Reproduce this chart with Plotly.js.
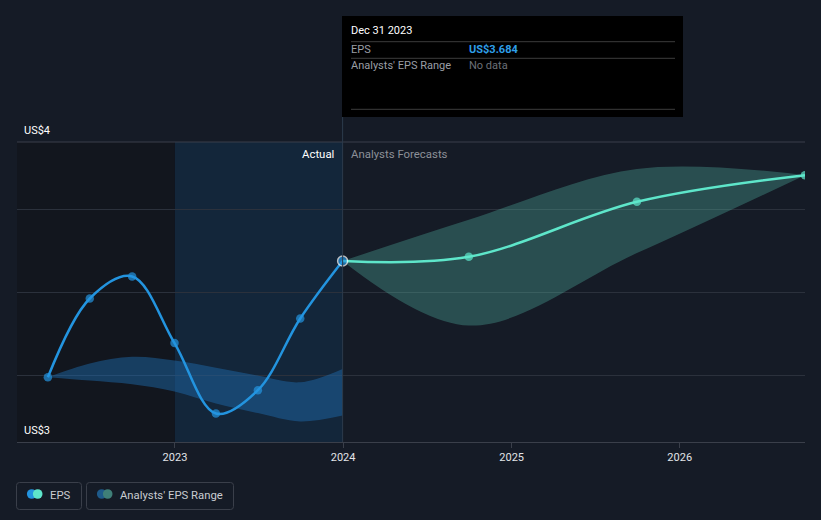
<!DOCTYPE html>
<html>
<head>
<meta charset="utf-8">
<script src="https://cdn.plot.ly/plotly-3.0.1.min.js"></script>
<style>
html,body{margin:0;padding:0;background:#151b26;}
#chart{width:821px;height:520px;}
</style>
</head>
<body>
<div id="chart"></div>
<script>
// ---- data ----
const actualDates = ['2022-03-31','2022-06-30','2022-09-30','2022-12-31','2023-03-31','2023-06-30','2023-09-30','2023-12-31'];
const actualEps = [3.405, 3.594, 3.647, 3.487, 3.318, 3.374, 3.546, 3.684];
const pastRangeHigh = [3.405, 3.438, 3.454, 3.445, 3.428, 3.409, 3.393, 3.425];
const pastRangeLow = [3.405, 3.397, 3.388, 3.371, 3.342, 3.319, 3.299, 3.313];

const forecastDates = ['2023-12-31','2024-09-30','2025-09-30','2026-09-30'];
const forecastEps = [3.684, 3.694, 3.826, 3.890];
const forecastHigh = [3.684, 3.783, 3.905, 3.890];
const forecastLow = [3.684, 3.529, 3.703, 3.890];

const yearTicks = ['2023-01-01','2024-01-01','2025-01-01','2026-01-01'];
const yearLabels = ['2023','2024','2025','2026'];
const yMinLabel = 'US$3';
const yMaxLabel = 'US$4';

// ---- layout helpers (pixel -> paper) ----
const L = 17, T = 142, W = 788, H = 300;
const PX = x => (x - L) / W;
const PY = y => (T + H - y) / H;

const FONT = 'Roboto, "Noto Sans", Arial, sans-serif';
const BLUE = '#2394df';
const TEAL = '#5ee6ca';

const traces = [
  {x: actualDates, y: pastRangeLow, type: 'scatter', mode: 'lines',
   line: {width: 0, shape: 'spline', color: 'rgba(0,0,0,0)'}, hoverinfo: 'skip'},
  {x: actualDates, y: pastRangeHigh, type: 'scatter', mode: 'lines', fill: 'tonexty',
   fillcolor: 'rgba(32,110,180,0.45)', line: {width: 0, shape: 'spline', color: 'rgba(0,0,0,0)'}, hoverinfo: 'skip'},
  {x: forecastDates, y: forecastLow, type: 'scatter', mode: 'lines',
   line: {width: 0, shape: 'spline', color: 'rgba(0,0,0,0)'}, hoverinfo: 'skip'},
  {x: forecastDates, y: forecastHigh, type: 'scatter', mode: 'lines', fill: 'tonexty',
   fillcolor: 'rgba(90,200,180,0.30)', line: {width: 0, shape: 'spline', color: 'rgba(0,0,0,0)'}, hoverinfo: 'skip'},
  {x: forecastDates, y: forecastEps, type: 'scatter', mode: 'lines+markers',
   line: {width: 2.5, shape: 'spline', color: TEAL},
   marker: {size: forecastDates.map((d, i) => i === 0 ? 0 : 8.5), color: TEAL, line: {width: 0}}},
  {x: actualDates, y: actualEps, type: 'scatter', mode: 'lines+markers',
   line: {width: 2.5, shape: 'spline', color: BLUE},
   marker: {size: actualDates.map((d, i) => i === actualDates.length - 1 ? 10 : 8.5), color: BLUE,
            line: {width: actualDates.map((d, i) => i === actualDates.length - 1 ? 1.5 : 0), color: '#ffffff'}}}
];

function roundRect(x0, y0, x1, y1, r) {
  const a = PX(x0), b = PX(x1), c = PY(y0), d = PY(y1);
  const rx = r / W, ry = r / H;
  return `M${a+rx},${c} L${b-rx},${c} Q${b},${c} ${b},${c-ry} L${b},${d+ry} Q${b},${d} ${b-rx},${d} L${a+rx},${d} Q${a},${d} ${a},${d+ry} L${a},${c-ry} Q${a},${c} ${a+rx},${c} Z`;
}
function circ(cx, cy, r, color) {
  return {type: 'circle', xref: 'paper', yref: 'paper', x0: PX(cx - r), x1: PX(cx + r),
          y0: PY(cy + r), y1: PY(cy - r), fillcolor: color, line: {width: 0}};
}
function hline(x0, x1, y, color) {
  return {type: 'line', xref: 'paper', yref: 'paper', x0: PX(x0), x1: PX(x1), y0: PY(y), y1: PY(y),
          line: {color: color, width: 1}};
}

const shapes = [
  // dark left zone
  {type: 'rect', xref: 'x', yref: 'paper', x0: '2022-01-01', x1: yearTicks[0], y0: 0, y1: 1,
   fillcolor: '#12161e', line: {width: 0}, layer: 'below'},
  // last-year highlight
  {type: 'rect', xref: 'x', yref: 'paper', x0: yearTicks[0], x1: actualDates[actualDates.length - 1], y0: 0, y1: 1,
   fillcolor: '#13263a', line: {width: 0}, layer: 'below'},
  // top border line
  {type: 'line', xref: 'paper', yref: 'paper', x0: 0, x1: 1, y0: 1, y1: 1, line: {color: '#3a3f4a', width: 1}},
  // vertical present line
  {type: 'line', xref: 'x', yref: 'paper', x0: actualDates[actualDates.length - 1], x1: actualDates[actualDates.length - 1],
   y0: 0, y1: PY(117), line: {color: '#2c3b4c', width: 1}},
  // tooltip box
  {type: 'rect', xref: 'paper', yref: 'paper', x0: PX(342), x1: PX(683), y0: PY(117), y1: PY(16),
   fillcolor: '#000000', line: {width: 0}},
  hline(351, 675, 41.7, '#3c3c3c'),
  hline(351, 675, 58.3, '#3c3c3c'),
  hline(351, 675, 109.3, '#3c3c3c'),
  // legend boxes
  {type: 'path', xref: 'paper', yref: 'paper', path: roundRect(16.5, 482.5, 81.5, 509.5, 3),
   line: {color: '#3a3f4a', width: 1}, fillcolor: 'rgba(0,0,0,0)'},
  {type: 'path', xref: 'paper', yref: 'paper', path: roundRect(86.5, 482.5, 233.5, 509.5, 3),
   line: {color: '#3a3f4a', width: 1}, fillcolor: 'rgba(0,0,0,0)'},
  circ(31.7, 494, 4.8, BLUE),
  circ(37.7, 494, 4.8, TEAL),
  circ(101.7, 494, 4.8, '#1e5a8a'),
  circ(107.7, 494, 4.8, '#3f7f78')
];

function ann(text, x, y, opts) {
  return Object.assign({xref: 'paper', yref: 'paper', x: PX(x), y: PY(y), text: text, showarrow: false,
    xanchor: 'left', yanchor: 'middle', font: {family: FONT, size: 11, color: '#ffffff'}}, opts || {});
}

const annotations = [
  ann(yMaxLabel, 22, 130),
  ann(yMinLabel, 22, 430),
  ann('Actual', 336, 154, {xanchor: 'right', font: {family: FONT, size: 11.4, color: '#ffffff'}}),
  ann('Analysts Forecasts', 349, 154, {font: {family: FONT, size: 11.4, color: '#8c9098'}}),
  ann('Dec 31 2023', 349, 31, {font: {family: FONT, size: 11, color: '#ffffff'}}),
  ann('EPS', 349, 49.5, {font: {family: FONT, size: 11, color: '#9a9ea5'}}),
  ann('<b>US$' + actualEps[actualEps.length - 1].toFixed(3) + '</b>', 467, 49.5, {font: {family: FONT, size: 11, color: '#2e9fe8'}}),
  ann("Analysts' EPS Range", 349, 66, {font: {family: FONT, size: 11, color: '#9a9ea5'}}),
  ann('No data', 467, 66, {font: {family: FONT, size: 11, color: '#6c7078'}}),
  ann('EPS', 48, 495, {font: {family: FONT, size: 11.3, color: '#c9ccd1'}}),
  ann("Analysts' EPS Range", 118, 495, {font: {family: FONT, size: 11.3, color: '#c9ccd1'}})
];

const layout = {
  width: 821, height: 520,
  margin: {l: L, r: 821 - L - W, t: T, b: 520 - T - H, pad: 0},
  paper_bgcolor: '#151b26', plot_bgcolor: '#151b26',
  showlegend: false, hovermode: false,
  xaxis: {type: 'date', range: ['2022-01-23', '2026-09-30'], tickvals: yearTicks, ticktext: yearLabels,
          showgrid: false, zeroline: false, showline: true, linecolor: '#3a3f4a', linewidth: 1,
          ticks: 'outside', ticklen: 5, tickcolor: '#3a3f4a', tickwidth: 1,
          tickfont: {family: FONT, size: 11, color: '#e2e4e8'}, fixedrange: true},
  yaxis: {range: [3.2496, 3.9696], tickvals: [3.4104, 3.6096, 3.8088], showticklabels: false,
          showgrid: true, gridcolor: '#2b313c', gridwidth: 1, zeroline: false, showline: false, fixedrange: true},
  shapes: shapes,
  annotations: annotations,
  font: {family: FONT}
};

Plotly.newPlot('chart', traces, layout, {displayModeBar: false, staticPlot: true});
</script>
</body>
</html>
